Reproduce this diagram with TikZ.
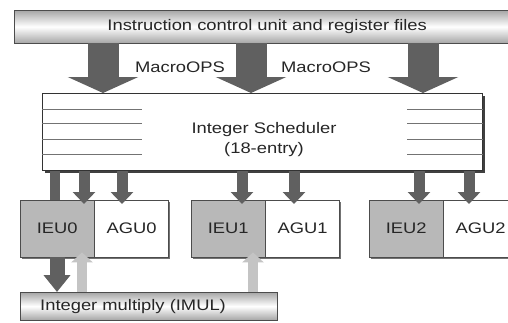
\documentclass[tikz,border=0pt]{standalone}
\usepackage{fontspec}
\setmainfont{Liberation Sans}[FakeStretch=1.2]
\usetikzlibrary{positioning,arrows.meta,shadows}
\definecolor{cArrow}{HTML}{606060}
\definecolor{cUnit}{HTML}{B8B8B8}
\definecolor{cLight}{HTML}{C4C4C4}
\definecolor{cText}{HTML}{262626}

\begin{document}
\begin{tikzpicture}[
    x=1pt, y=-1pt,
    font=\fontsize{15.3}{20}\selectfont, text=cText,
    bar/.style={draw=black!70, top color=black!35, bottom color=black!35, middle color=white, inner sep=0pt},
    sched/.style={draw=black!80, thick, fill=white, drop shadow={shadow xshift=2.5pt, shadow yshift=-2.5pt, fill=black!75, opacity=1}},
    unit/.style={draw=black!70, minimum width=74pt, minimum height=57pt, inner sep=0pt, drop shadow={shadow xshift=1.5pt, shadow yshift=-1.5pt, fill=black!55, opacity=1}},
    ieu/.style={unit, fill=cUnit},
    agu/.style={unit, fill=white},
    entry/.style={draw=black!55, thick},
    bigarr/.style={-{Triangle[width=70pt,length=16pt]}, line width=31pt, cArrow},
    arr/.style={-{Triangle[width=22pt,length=12pt]}, line width=11pt, cArrow, shorten >=-4pt},
    plainbar/.style={line width=10pt, cArrow},
    downarr/.style={-{Triangle[width=26pt,length=17pt]}, line width=15pt, cArrow},
    uparr/.style={-{Triangle[width=21pt,length=10pt]}, line width=10pt, cLight, shorten >=-5pt},
    node distance=0pt
]
\clip (0,0) rectangle (508,322);

\node[bar, minimum width=506pt, minimum height=33pt, anchor=north west] (icu) at (14,10) {Instruction control unit and register files};

\node[sched, minimum width=440pt, minimum height=77pt, anchor=north west] (sched) at (42,93) {};
\foreach \y in {109,123,139,154} {
  \draw[entry] (sched.west |- 0,\y) -- (142,\y);
  \draw[entry] (407,\y) -- (sched.east |- 0,\y);
}
\node[align=center] (schedtxt) at (264,140) {Integer Scheduler\\(18-entry)};

\node[ieu, anchor=north west] (ieu0) at (20,200) {IEU0};
\node[agu, right=of ieu0] (agu0) {AGU0};
\node[ieu, anchor=north west] (ieu1) at (191,200) {IEU1};
\node[agu, right=of ieu1] (agu1) {AGU1};
\node[ieu, anchor=north west] (ieu2) at (369,200) {IEU2};
\node[agu, right=of ieu2] (agu2) {AGU2};

\node[bar, minimum height=28pt, text width=217pt, inner xsep=20pt, align=left, anchor=north west] (imul) at (20,292) {Integer multiply (IMUL)};

\draw[bigarr] (icu.south -| 103,0) -- (sched.north -| 103,0);
\draw[bigarr] (icu.south -| 251,0) -- (sched.north -| 251,0);
\draw[bigarr] (icu.south -| 423,0) -- (sched.north -| 423,0);
\node (mop1) at (180,67) {MacroOPS};
\node (mop2) at (326,67) {MacroOPS};

\draw[plainbar] (sched.south -| 55,0) -- (ieu0.north -| 55,0);
\draw[arr] (sched.south -| 84,0) -- (ieu0.north -| 84,0);
\draw[arr] (sched.south -| 122,0) -- (agu0.north -| 122,0);
\draw[arr] (sched.south -| 242,0) -- (ieu1.north -| 242,0);
\draw[arr] (sched.south -| 294,0) -- (agu1.north -| 294,0);
\draw[arr] (sched.south -| 419,0) -- (ieu2.north -| 419,0);
\draw[arr] (sched.south -| 469,0) -- (agu2.north -| 469,0);

\draw[downarr] (ieu0.south -| 57,0) -- (imul.north -| 57,0);
\draw[uparr] (imul.north -| 82,0) -- (ieu0.south -| 82,0);
\draw[uparr] (imul.north -| 253,0) -- (ieu1.south -| 253,0);
\end{tikzpicture}
\end{document}
